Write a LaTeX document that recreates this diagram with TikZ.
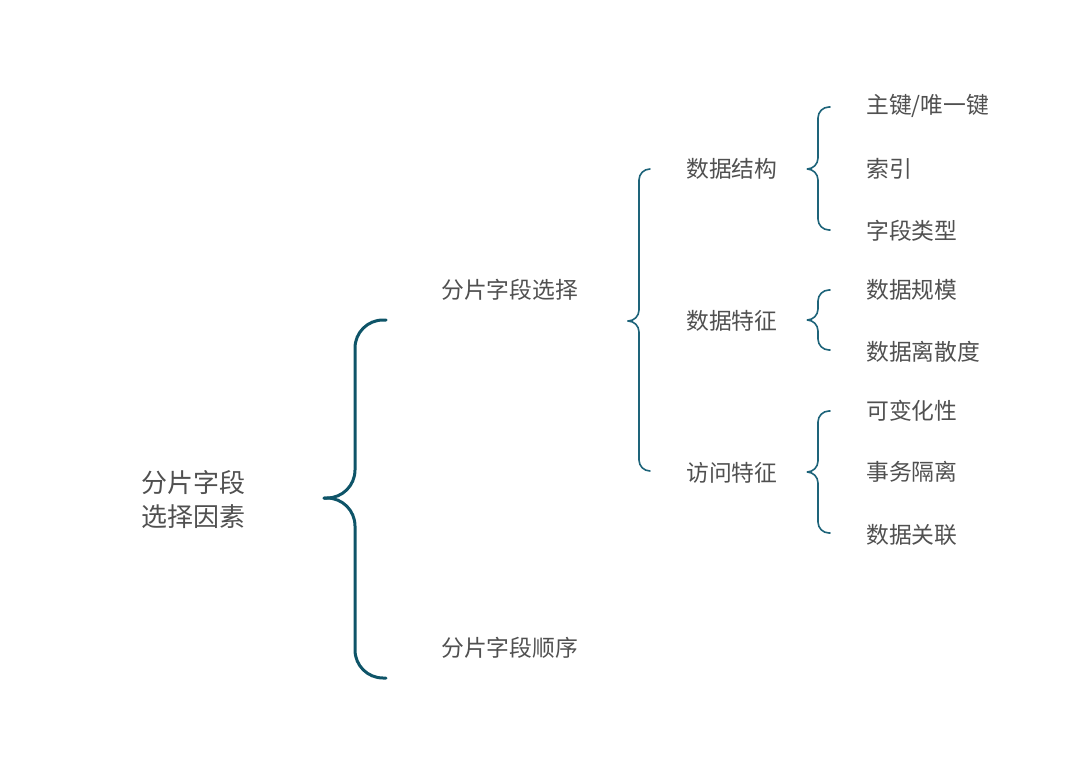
\documentclass[tikz,border=0pt]{standalone}
\usepackage{fontspec}
\newfontfamily\cjk{Noto Sans CJK SC}
\definecolor{bigc}{RGB}{14,84,104}
\definecolor{smallc}{RGB}{30,100,122}
\definecolor{txt}{RGB}{80,80,80}
\newcommand\mybrace[8]{% style, xe, xv, xtip, ytop, ytip, ybot, r
  \draw[#1,rounded corners=#8] (#2,#5) -- (#3,#5) -- (#3,#6) -- (#4,#6);
  \draw[#1,rounded corners=#8] (#4,#6) -- (#3,#6) -- (#3,#7) -- (#2,#7);
}
\begin{document}
\begin{tikzpicture}[x=1pt,y=-1pt,
  lbl/.style={font=\cjk\fontsize{22.8}{26}\selectfont, text=txt, anchor=west, inner sep=0pt},
  mainlbl/.style={font=\cjk\fontsize{26}{34}\selectfont, text=txt, anchor=west, inner sep=0pt, align=left},
  bigbr/.style={draw=bigc, line width=3pt, line cap=round},
  smbr/.style={draw=smallc, line width=1.6pt, line cap=round}]
\useasboundingbox (0,0) rectangle (1080,760);
% texts
\node[mainlbl] (root) at (141,500) {分片字段\\选择因素};
\node[lbl] (a1) at (441,290) {分片字段选择};
\node[lbl] (a2) at (441,648) {分片字段顺序};
\node[lbl] (b1) at (686,169) {数据结构};
\node[lbl] (b2) at (686,321) {数据特征};
\node[lbl] (b3) at (686,473) {访问特征};
\node[lbl] (c1) at (866,106) {主键/唯一键};
\node[lbl] (c2) at (866,169) {索引};
\node[lbl] (c3) at (866,231) {字段类型};
\node[lbl] (c4) at (866,290) {数据规模};
\node[lbl] (c5) at (866,352) {数据离散度};
\node[lbl] (c6) at (866,411) {可变化性};
\node[lbl] (c7) at (866,472) {事务隔离};
\node[lbl] (c8) at (866,535) {数据关联};
% braces
\mybrace{bigbr}{386}{355}{324}{320}{498}{678}{28}
\mybrace{smbr}{650}{639}{628}{169}{321}{471}{11}
\mybrace{smbr}{830}{818}{808}{107}{169}{230}{11}
\mybrace{smbr}{830}{818}{808}{290}{320}{350}{11}
\mybrace{smbr}{830}{818}{808}{411}{472}{533}{11}
\end{tikzpicture}
\end{document}
